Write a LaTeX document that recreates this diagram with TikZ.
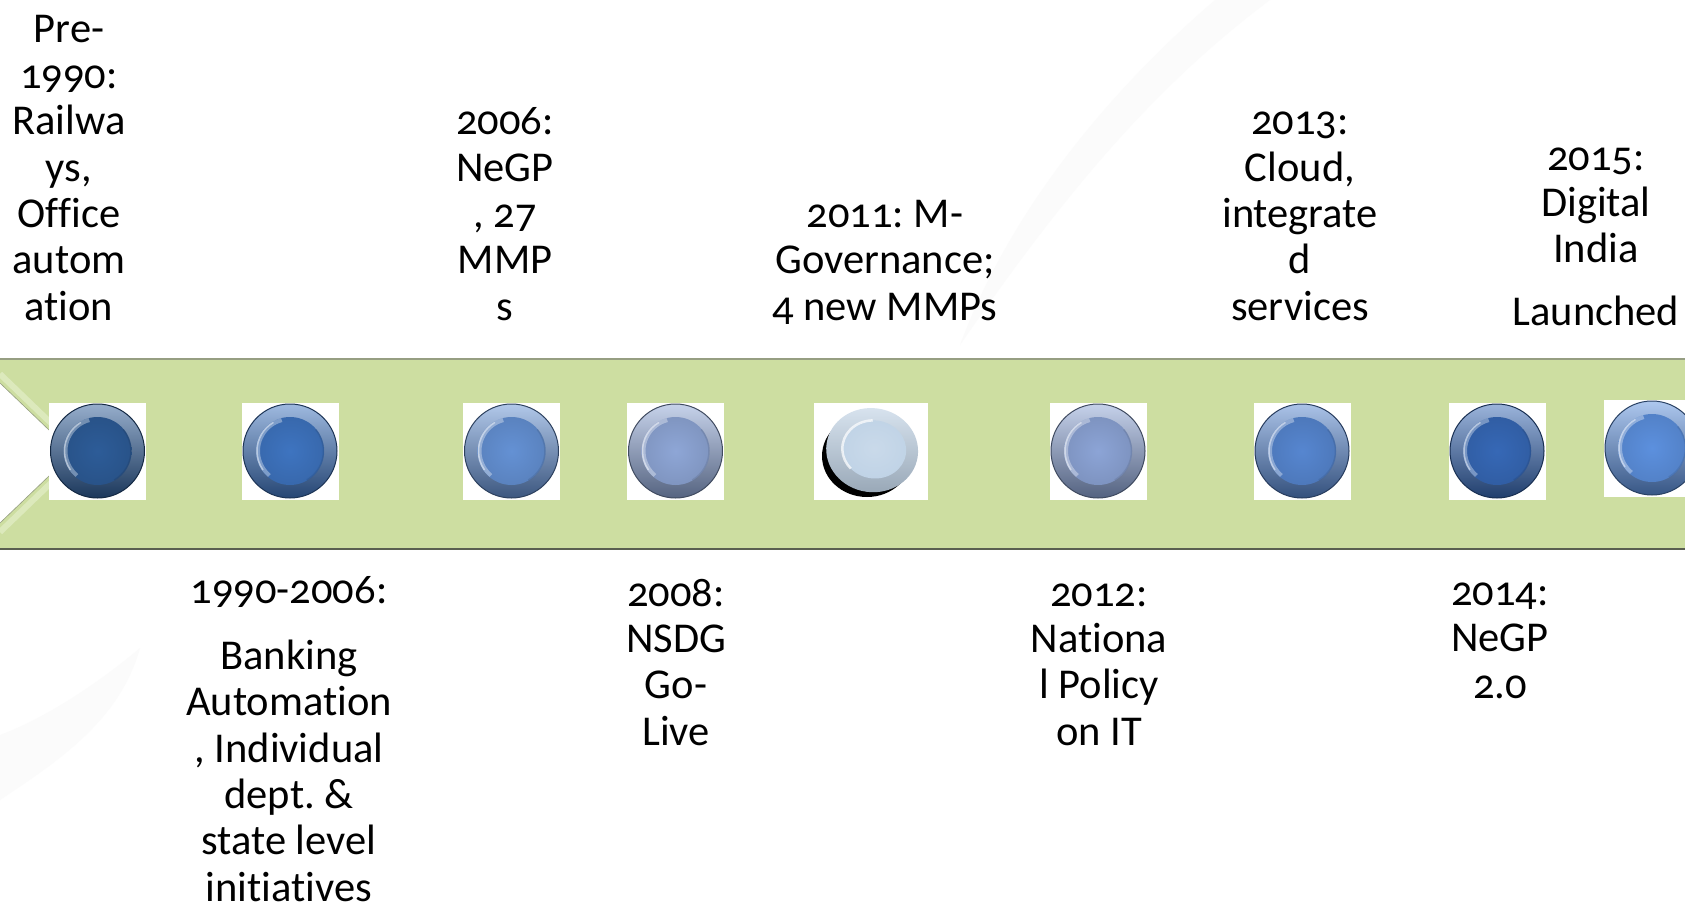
\documentclass[tikz,border=0pt]{standalone}
\usepackage{fontspec}
\setmainfont{Carlito}[Numbers=OldStyle, Ligatures=NoCommon]
\usetikzlibrary{calc}
\frenchspacing

\definecolor{bandfill}{RGB}{205,222,161}
\definecolor{bandlight}{RGB}{220,233,188}
\definecolor{bandtopline}{RGB}{150,158,130}
\definecolor{bandbotline}{RGB}{90,95,80}
\definecolor{faint}{RGB}{251,251,251}
\definecolor{pA}{RGB}{45,92,152}
\definecolor{pB}{RGB}{62,116,192}
\definecolor{pC}{RGB}{100,145,212}
\definecolor{pD}{RGB}{142,166,214}
\definecolor{pE}{RGB}{192,211,230}
\definecolor{pF}{RGB}{140,164,214}
\definecolor{pG}{RGB}{86,134,208}
\definecolor{pH}{RGB}{54,104,182}
\definecolor{pI}{RGB}{92,144,222}

\tikzset{
  % base anchor sits on the last line of a multi-line label
  lbl/.style={font=\fontsize{42.5}{46.3}\selectfont, align=center,
              anchor=base, inner sep=0pt},
  platebg/.style={rectangle, fill=white, draw=none, inner sep=0pt,
                  minimum size=97pt},
  plate/.style={circle, inner sep=0pt, minimum size=94pt},
}

% a glossy blue plate on a white square: name, x, y, colour
\newcommand\platedot[4]{%
  \node[platebg] (#1-bg) at (#2,#3) {};
  \node[plate] (#1) at (#2,#3) {};
  \shade[top color=#4!50!white, bottom color=#4!60!black] (#1.center) circle (47);
  \draw[#4!45!black, line width=1pt] (#1.center) circle (47);
  \shade[inner color=#4, outer color=#4!90!black] (#1.center) circle (34);
  \draw[white, opacity=.35, line width=4pt]
    ($(#1.center)+(105:32)$) arc[start angle=105, end angle=230, radius=32];
  \draw[white, opacity=.45, line width=1.5pt]
    ($(#1.center)+(120:33)$) arc[start angle=120, end angle=215, radius=33];
  \draw[#4!70!black, opacity=.4, line width=1.5pt]
    ($(#1.center)+(-60:33.5)$) arc[start angle=-60, end angle=40, radius=33.5];
}

\begin{document}
\begin{tikzpicture}[x=1pt, y=1pt]
\useasboundingbox (0,0) rectangle (1685,-909);
\clip (0,0) rectangle (1685,-909);
\fill[white] (0,0) rectangle (1685,-909);

% faint background swooshes
\fill[faint] (960,-345) .. controls (1060,-200) and (1150,-90) .. (1270,0)
  -- (1215,0) .. controls (1110,-90) and (1010,-210) .. (960,-345) -- cycle;
\fill[faint] (0,-800) .. controls (60,-760) and (120,-720) .. (140,-648)
  .. controls (90,-690) and (40,-720) .. (0,-735) -- cycle;

% timeline band with notched tail
\fill[bandfill] (0,-359) -- (1685,-359) -- (1685,-549) -- (0,-549)
  -- (0,-523) -- (73,-453) -- (0,-383) -- cycle;
\draw[bandlight, line width=6pt] (0,-374) -- (82,-453) -- (0,-532);
\draw[bandtopline, line width=0.6pt] (0,-383) -- (73,-453) -- (0,-523);
\draw[bandtopline, line width=1.5pt] (0,-359) -- (1685,-359);
\draw[bandbotline, line width=1.8pt] (0,-549) -- (1685,-549);

% milestones
\platedot{m1}{97.5}{-451}{pA}
\platedot{m2}{290}{-451}{pB}
\platedot{m3}{511.5}{-451}{pC}
\platedot{m4}{675.5}{-451}{pD}

% the 2011 plate, tilted with a dark shadow
\node[platebg, minimum width=114pt] (m5-bg) at (871,-451) {};
\node[plate] (m5) at (871,-451) {};
\fill[black] ($(m5.center)+(-4,-5)$) ellipse[x radius=45, y radius=41];
\shade[top color=pE!60!white, bottom color=pE!80!black, rotate around={-8:(m5.center)}]
  ($(m5.center)+(1,1)$) ellipse[x radius=46, y radius=42];
\shade[inner color=pE!85!white, outer color=pE, rotate around={-8:(m5.center)}]
  ($(m5.center)+(3,2)$) ellipse[x radius=32, y radius=29];
\draw[white, opacity=.7, line width=2.5pt, rotate around={-8:(m5.center)}]
  ($(m5.center)+(3,2)+(100:32 and 29)$) arc[start angle=100, end angle=230, x radius=32, y radius=29];

\platedot{m6}{1098}{-451}{pF}
\platedot{m7}{1302}{-451}{pG}
\platedot{m8}{1497}{-451}{pH}
\platedot{m9}{1652}{-448}{pI}

% labels above the band
\node[lbl] (t1) at (69,-320) {Pre-\\1990:\\Railwa\\ys,\\Office\\autom\\ation};
\node[lbl] (t3) at (505,-320) {2006:\\NeGP\\, 27\\MMP\\s};
\node[lbl] (t5) at (885,-320) {2011: M-\\Governance;\\4 new MMPs};
\node[lbl] (t7) at (1300,-320) {2013:\\Cloud,\\integrate\\d\\services};
\node[lbl] (t9) at (1596,-325) {2015:\\Digital\\India\\[16pt]Launched};

% labels below the band
\node[lbl] (t2) at (289,-901) {1990-2006:\\[20pt]Banking\\Automation\\, Individual\\dept. \&\\state level\\initiatives};
\node[lbl] (t4) at (676,-745) {2008:\\NSDG\\Go-\\Live};
\node[lbl] (t6) at (1099,-745) {2012:\\Nationa\\l Policy\\on IT};
\node[lbl] (t8) at (1500,-698) {2014:\\NeGP\\2.0};
\end{tikzpicture}
\end{document}
